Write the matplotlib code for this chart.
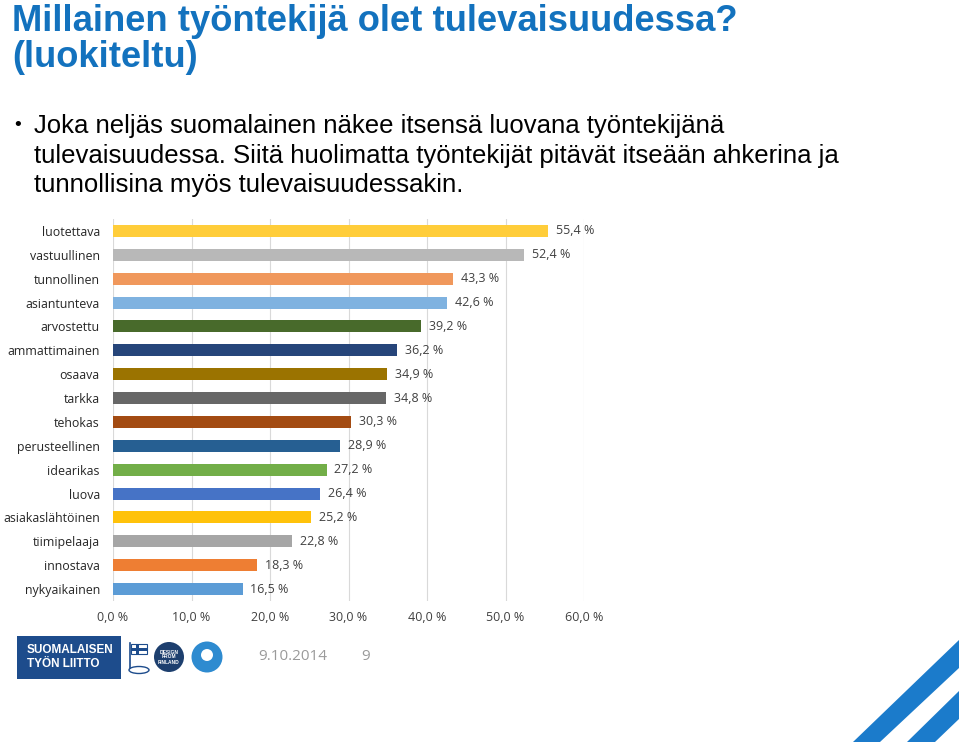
import matplotlib
matplotlib.use("Agg")
import matplotlib.pyplot as plt
from matplotlib.patches import Polygon, Rectangle, Ellipse

categories = ["luotettava", "vastuullinen", "tunnollinen", "asiantunteva", "arvostettu",
              "ammattimainen", "osaava", "tarkka", "tehokas", "perusteellinen",
              "idearikas", "luova", "asiakaslähtöinen", "tiimipelaaja", "innostava",
              "nykyaikainen"]
values = [55.4, 52.4, 43.3, 42.6, 39.2, 36.2, 34.9, 34.8, 30.3, 28.9, 27.2, 26.4,
          25.2, 22.8, 18.3, 16.5]
colors = ["#FFCD3A", "#B8B8B8", "#F0985C", "#7FB2E0", "#486A2B", "#26457A",
          "#9B7300", "#676767", "#A34B12", "#265F92", "#72AE48", "#4673C6",
          "#FFC20A", "#A6A6A6", "#EE7E33", "#5C9CD6"]
xticks = [0, 10, 20, 30, 40, 50, 60]
xticklabels = ["0,0 %", "10,0 %", "20,0 %", "30,0 %", "40,0 %", "50,0 %", "60,0 %"]

title = "Millainen työntekijä olet tulevaisuudessa?\n(luokiteltu)"
bullet_lines = ["Joka neljäs suomalainen näkee itsensä luovana työntekijänä",
                "tulevaisuudessa. Siitä huolimatta työntekijät pitävät itseään ahkerina ja",
                "tunnollisina myös tulevaisuudessakin."]

W, H = 959, 747
fig = plt.figure(figsize=(W / 100, H / 100), dpi=100)
fig.patch.set_facecolor("white")

lab_font = "Open Sans"
ax = fig.add_axes([113 / W, 1 - 601 / H, (584 - 113) / W, (601 - 219) / H])
y = list(range(len(categories)))
ax.barh(y, values, height=0.5, color=colors)
ax.set_ylim(len(categories) - 0.5, -0.5)
ax.set_xlim(0, 60)
ax.set_xticks(xticks)
ax.set_xticklabels(xticklabels, fontsize=9, family=lab_font, color="#404040")
ax.set_yticks(y)
ax.set_yticklabels(categories, fontsize=8.9, family=lab_font, color="#262626")
ax.tick_params(axis="y", length=0, pad=9.5)
ax.tick_params(axis="x", length=0, pad=7)
ax.grid(axis="x", color="#D9D9D9", linewidth=0.8)
ax.set_axisbelow(True)
for s in ax.spines.values():
    s.set_visible(False)
for yi, v in zip(y, values):
    ax.text(v + 1.0, yi, f"{v:.1f} %".replace(".", ","), va="center", ha="left",
            fontsize=9, family=lab_font, color="#404040")

# Title
fig.text(12 / W, 1 - 4 / H, title, ha="left", va="top", fontsize=26.2, fontweight="bold",
         color="#1372BE", family="Liberation Sans", linespacing=1.05)
# Bullet
fig.text(14 / W, 1 - 126 / H, "•", ha="left", va="center", fontsize=14,
         family="Liberation Sans", color="black")
for i, line in enumerate(bullet_lines):
    fig.text(34 / W, 1 - (126 + 29.5 * i) / H, line, ha="left", va="center",
             fontsize=18.55, family="Liberation Sans", color="black")

# Footer logo box
fig.patches.append(Rectangle((17 / W, 1 - 679 / H), (121 - 17) / W, (679 - 636) / H,
                             transform=fig.transFigure, facecolor="#1D4C8C", edgecolor="none"))
fig.text(27 / W, 1 - 657 / H, "SUOMALAISEN\nTYÖN LIITTO", ha="left", va="center",
         fontsize=8.5, fontweight="bold", color="white", family="Liberation Sans",
         linespacing=1.2)
# flag icon
fig.lines.append(plt.Line2D([130 / W, 130 / W], [1 - 643 / H, 1 - 668 / H],
                            transform=fig.transFigure, color="#1D4C8C", lw=1.2))
fig.patches.append(Rectangle((131 / W, 1 - 654 / H), 16 / W, 10 / H,
                             transform=fig.transFigure, facecolor="white",
                             edgecolor="#1D4C8C", lw=0.8))
fig.patches.append(Rectangle((131 / W, 1 - 650.5 / H), 16 / W, 3 / H,
                             transform=fig.transFigure, facecolor="#1D4C8C", edgecolor="none"))
fig.patches.append(Rectangle((136 / W, 1 - 654 / H), 3 / W, 10 / H,
                             transform=fig.transFigure, facecolor="#1D4C8C", edgecolor="none"))
fig.patches.append(Ellipse((139 / W, 1 - 670 / H), 20 / W, 7 / H,
                   transform=fig.transFigure, facecolor="white", edgecolor="#1D4C8C", lw=1))
# Design from Finland circle
fig.patches.append(Ellipse((169 / W, 1 - 657 / H), 30 / W, 30 / H,
                   transform=fig.transFigure, facecolor="#1D3F6E", edgecolor="none"))
fig.text(169 / W, 1 - 657 / H, "DESIGN\nFROM\nFINLAND", ha="center", va="center",
         fontsize=3.5, fontweight="bold", color="white", family="Liberation Sans",
         linespacing=1.0)
# Avainlippu-style circle
fig.patches.append(Ellipse((207 / W, 1 - 657 / H), 31 / W, 31 / H,
                   transform=fig.transFigure, facecolor="#2E8BD0", edgecolor="none"))
fig.patches.append(Ellipse((207 / W, 1 - 655 / H), 12 / W, 12 / H,
                   transform=fig.transFigure, facecolor="white", edgecolor="none"))

fig.text(258 / W, 1 - 656 / H, "9.10.2014", ha="left", va="center", fontsize=11,
         family=lab_font, color="#9A9A9A")
fig.text(361 / W, 1 - 656 / H, "9", ha="left", va="center", fontsize=11,
         family=lab_font, color="#9A9A9A")

# Diagonal stripes bottom right
stripe = "#1B7BCB"
p1 = [(853, 742), (880, 742), (959, 668), (959, 640)]
p2 = [(907, 742), (935, 742), (959, 719), (959, 691)]
for p in (p1, p2):
    fig.patches.append(Polygon([(x / W, 1 - yy / H) for x, yy in p], closed=True,
                               transform=fig.transFigure, facecolor=stripe, edgecolor="none"))

fig.savefig("out.png", dpi=100, facecolor="white")
